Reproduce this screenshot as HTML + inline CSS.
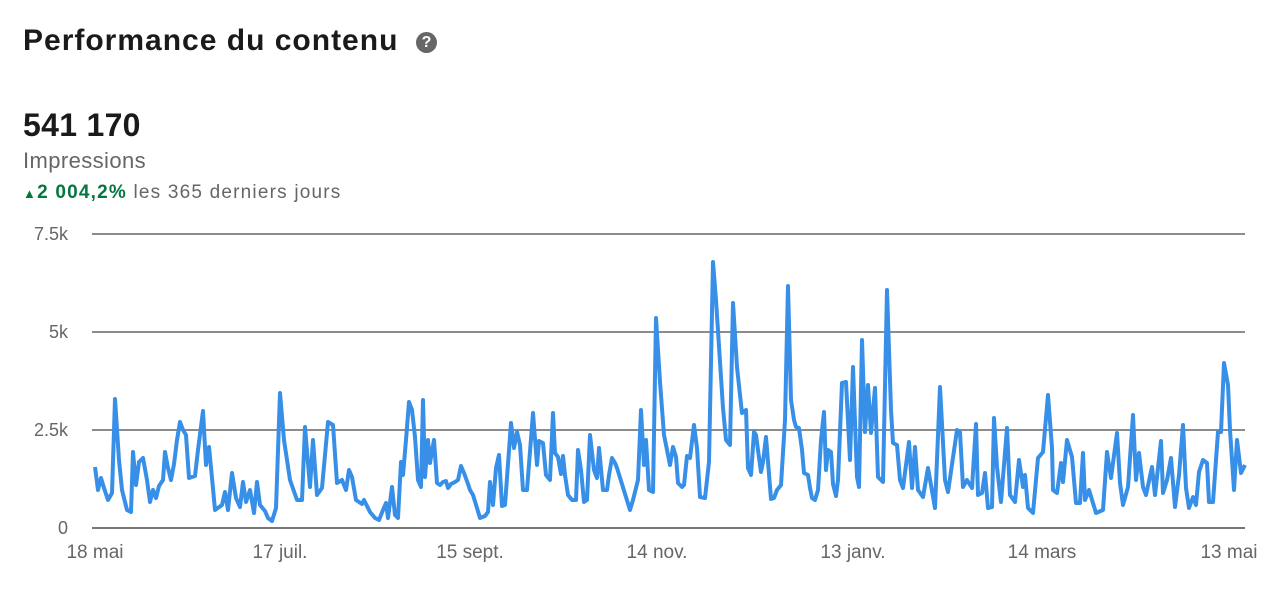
<!DOCTYPE html>
<html><head><meta charset="utf-8"><style>
body{margin:0;width:1280px;height:597px;background:#fff;font-family:"Liberation Sans",sans-serif;position:relative;overflow:hidden}
.t{position:absolute;white-space:nowrap}
</style></head><body>
<div class="t" style="left:23px;top:24px;font-size:30px;font-weight:bold;color:#1a1a1a;letter-spacing:1px">Performance du contenu</div>
<div class="t" style="left:416px;top:32px;width:21px;height:21px;border-radius:50%;background:#666;color:#fff;font-size:16px;font-weight:bold;text-align:center;line-height:21px">?</div>
<div class="t" style="left:23px;top:107px;font-size:32px;font-weight:bold;color:#1a1a1a;letter-spacing:0.3px">541 170</div>
<div class="t" style="left:23px;top:148px;font-size:22px;color:#666;letter-spacing:0.4px">Impressions</div>
<div class="t" style="left:23px;top:182px;font-size:19px;color:#666;letter-spacing:1.2px"><span style="color:#057642;font-weight:bold"><span style="font-size:13px">▲</span>2 004,2%</span> les 365 derniers jours</div>
<svg width="1280" height="597" style="position:absolute;left:0;top:0">
<g stroke="#8c8c8c" stroke-width="2">
<line x1="92" y1="234" x2="1245" y2="234"/><line x1="92" y1="332" x2="1245" y2="332"/><line x1="92" y1="430" x2="1245" y2="430"/><line x1="92" y1="528" x2="1245" y2="528" stroke="#777"/>
</g>
<g font-size="18" fill="#666" font-family="Liberation Sans, sans-serif" text-anchor="end">
<text x="68" y="240">7.5k</text><text x="68" y="338">5k</text><text x="68" y="436">2.5k</text><text x="68" y="534">0</text>
</g>
<g font-size="19" fill="#666" font-family="Liberation Sans, sans-serif" text-anchor="middle">
<text x="95" y="558">18 mai</text><text x="280" y="558">17 juil.</text><text x="470" y="558">15 sept.</text><text x="657" y="558">14 nov.</text><text x="853" y="558">13 janv.</text><text x="1042" y="558">14 mars</text><text x="1229" y="558">13 mai</text>
</g>
<polyline fill="none" stroke="#378fe7" stroke-width="4" stroke-linejoin="round" points="95,467 98,490 101,478 104,488 108,500 112,493 115,399 119,460 122,490 127,510 131,512 133,452 136,485 139,462 143,458 147,480 150,502 153,490 156,498 159,486 163,480 165,452 168,468 171,480 174,464 177,440 180,422 183,430 186,435 189,478 195,476 198,450 203,411 206,465 209,447 212,478 215,510 222,505 225,492 228,510 232,473 236,498 240,507 243,482 246,502 250,490 254,513 257,482 260,505 265,511 268,518 272,521 276,508 280,393 284,440 290,480 297,500 302,500 305,427 310,487 313,440 317,495 322,488 328,422 333,425 337,483 342,480 346,490 349,470 352,477 356,500 362,504 364,500 370,512 375,518 379,520 383,510 386,503 388,518 392,487 395,515 398,518 401,462 403,475 406,440 409,402 412,410 415,437 418,480 421,487 423,400 425,477 428,440 430,463 434,440 437,483 440,485 443,482 446,481 448,488 451,484 455,482 458,480 461,466 464,473 468,484 470,490 473,495 477,508 480,518 485,516 488,512 490,482 493,505 496,468 499,455 502,506 505,505 511,423 514,448 517,432 520,445 523,490 527,490 533,413 537,465 539,441 543,443 546,475 550,480 553,413 555,453 558,457 561,474 563,456 565,475 568,495 572,500 576,500 578,450 581,470 584,502 587,500 590,435 594,470 597,478 599,448 603,490 607,490 609,475 612,458 615,463 617,468 630,510 633,500 638,480 641,410 644,465 646,440 649,490 653,492 656,318 660,382 664,435 667,450 670,465 673,447 676,457 678,483 682,487 684,485 687,456 690,458 694,425 697,448 700,497 705,498 709,462 713,262 716,300 723,408 726,440 730,445 733,303 737,367 740,395 742,413 746,410 748,468 751,475 754,432 756,435 758,450 761,472 763,462 766,437 771,499 774,498 777,490 781,485 785,420 788,286 791,400 794,420 796,427 799,428 802,450 804,473 808,475 810,488 812,498 815,500 818,490 821,440 824,412 826,470 828,450 831,452 833,484 836,496 838,480 840,432 842,383 846,382 850,460 853,367 857,477 859,487 862,340 865,432 868,385 871,433 875,388 878,477 883,482 887,290 891,410 893,443 897,445 900,480 903,488 909,442 912,488 915,447 918,490 923,497 928,468 935,508 940,387 945,480 948,492 957,430 960,432 963,487 967,480 972,488 976,424 978,495 982,493 985,473 988,508 992,507 994,418 997,467 1001,502 1007,428 1010,495 1015,502 1019,460 1023,487 1025,475 1028,508 1033,513 1038,458 1043,452 1048,395 1052,448 1053,490 1057,493 1061,463 1063,482 1067,440 1072,457 1076,503 1080,503 1083,453 1085,500 1089,490 1096,513 1103,510 1107,452 1111,478 1117,433 1120,483 1123,505 1128,487 1133,415 1136,480 1139,453 1143,487 1146,495 1152,467 1155,495 1161,441 1163,493 1167,480 1171,458 1175,507 1179,475 1183,425 1186,488 1189,508 1193,497 1196,505 1199,472 1203,460 1207,463 1209,502 1213,502 1218,432 1221,432 1224,363 1228,385 1230,430 1234,490 1237,440 1241,473 1245,465"/>
</svg>
</body></html>
